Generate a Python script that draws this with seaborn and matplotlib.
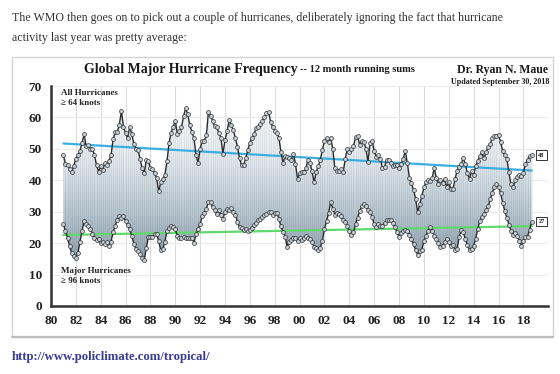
import numpy as np
import matplotlib.pyplot as plt
import matplotlib.ticker as mticker
from matplotlib.colors import LinearSegmentedColormap
from matplotlib.patches import Rectangle
from matplotlib.lines import Line2D
import seaborn as sns

# 12 month running sums, one value every two months starting Jan 1981
start_year = 1981.0
step = 1 / 6

all_hurricanes = [
    48.0, 45.2, 45.0, 43.5, 42.5, 44.7, 46.8, 48.0, 49.3, 52.0,
    54.6, 50.8, 51.2, 50.1, 50.1, 48.0, 44.8, 42.7, 44.5, 43.4,
    45.4, 44.8, 46.2, 48.0, 53.0, 55.3, 55.4, 57.7, 62.0, 57.0,
    55.0, 53.3, 57.0, 54.8, 51.5, 50.0, 49.5, 46.9, 43.8, 42.2,
    46.5, 46.0, 44.0, 43.5, 42.4, 40.6, 36.5, 39.4, 40.4, 41.8,
    46.0, 51.9, 55.2, 57.0, 58.9, 54.8, 55.7, 56.8, 60.4, 62.9,
    61.0, 57.5, 55.5, 53.5, 48.1, 45.5, 50.0, 52.6, 52.5, 54.3,
    61.8, 60.5, 59.0, 57.2, 56.8, 55.2, 53.6, 48.5, 52.8, 55.6,
    59.1, 57.7, 56.0, 53.5, 50.7, 47.0, 44.8, 44.8, 47.0, 49.7,
    51.8, 53.5, 54.6, 56.6, 57.0, 58.0, 59.0, 60.0, 61.3, 61.8,
    58.7, 56.8, 55.8, 55.1, 53.5, 49.0, 45.5, 47.6, 47.5, 47.0, 46.4,
    48.5, 45.3, 40.5, 42.2, 42.6, 42.7, 43.8, 46.4, 45.5, 43.0,
    39.3, 42.7, 44.4, 46.6, 49.7, 52.5, 53.5, 52.1, 53.6, 50.0,
    44.0, 43.0, 42.8, 43.5, 42.5, 46.7, 50.1, 48.9, 50.1, 50.8,
    53.8, 54.0, 51.3, 52.6, 52.3, 50.1, 45.8, 52.0, 52.6, 49.2,
    47.5, 48.0, 46.9, 43.8, 44.3, 46.5, 46.4, 45.5, 44.6, 45.0,
    44.9, 43.9, 45.2, 46.9, 49.3, 45.5, 40.8, 39.0, 36.9, 34.1,
    29.8, 32.4, 35.0, 37.7, 39.4, 40.1, 39.9, 40.8, 44.0, 40.6,
    38.8, 40.0, 39.2, 40.3, 37.9, 39.4, 37.2, 37.2, 40.3, 43.1,
    44.3, 45.2, 47.1, 45.1, 42.2, 40.5, 42.8, 41.8, 44.5, 46.1,
    47.7, 49.0, 47.0, 49.0, 50.7, 51.6, 53.4, 54.1, 54.2, 54.5,
    52.2, 49.3, 48.0, 46.9, 42.6, 38.8, 37.7, 40.1, 41.1, 41.7,
    41.2, 42.4, 45.3, 46.6, 47.7, 48.0,
]

major_hurricanes = [
    26.0, 23.9, 21.7, 19.0, 16.8, 16.0, 15.4, 16.8, 20.4, 23.8,
    27.1, 26.1, 25.4, 24.5, 22.8, 21.7, 21.0, 21.4, 19.9, 20.3,
    19.8, 20.2, 19.2, 20.5, 23.5, 25.5, 27.5, 28.7, 28.0, 28.6,
    26.9, 25.9, 24.4, 22.3, 19.8, 18.2, 17.4, 16.4, 15.3, 14.6,
    18.3, 22.0, 21.8, 22.1, 22.9, 22.8, 20.6, 17.7, 18.1, 20.5,
    24.0, 24.9, 25.5, 25.2, 24.4, 22.3, 21.7, 21.5, 21.9, 21.5,
    21.7, 21.5, 21.7, 20.1, 22.8, 24.5, 26.1, 28.5, 29.6, 31.0,
    33.0, 33.2, 31.5, 30.5, 29.2, 30.4, 29.1, 27.8, 29.8, 30.9,
    30.5, 31.3, 30.0, 29.1, 26.8, 25.1, 24.7, 24.2, 24.5, 23.8,
    24.2, 24.9, 25.8, 26.4, 27.3, 27.8, 28.4, 28.8, 29.3, 29.8,
    30.0, 29.1, 29.5, 29.7, 27.7, 25.3, 23.6, 22.1, 18.8, 20.4, 21.1,
    21.6, 21.5, 20.6, 21.5, 21.1, 21.7, 22.4, 21.5, 21.3, 20.2,
    18.8, 18.3, 17.7, 18.5, 20.8, 24.5, 26.9, 29.6, 33.0, 31.0,
    29.0, 29.7, 29.3, 28.5, 27.2, 26.6, 25.6, 23.8, 22.6, 23.4,
    26.1, 28.1, 30.1, 31.9, 32.4, 31.7, 30.5, 29.9, 28.3, 26.0,
    25.2, 26.1, 25.5, 25.6, 26.3, 27.2, 27.2, 27.4, 26.3, 25.0,
    23.5, 21.8, 23.1, 23.7, 24.2, 23.8, 22.7, 21.3, 19.6, 17.7,
    16.3, 17.4, 17.9, 20.6, 22.4, 23.8, 25.0, 24.0, 22.3, 21.4,
    20.0, 18.9, 19.0, 20.4, 21.2, 20.2, 19.0, 19.4, 17.8, 18.0,
    22.0, 24.2, 23.4, 21.2, 19.3, 17.8, 18.2, 19.2, 21.4, 24.6,
    27.0, 28.3, 29.3, 30.4, 31.7, 33.9, 36.0, 37.8, 38.9, 37.9,
    35.9, 32.9, 30.3, 28.1, 25.8, 23.8, 22.7, 23.3, 22.4, 20.7,
    19.0, 20.7, 22.1, 22.1, 24.2, 26.8,
]

# linear trend lines (end points)
trend_years = [1981.0, 2018.67]
trend_all = [51.7, 43.1]
trend_major = [22.6, 25.4]

years = start_year + step * np.arange(len(all_hurricanes))
all_arr = np.array(all_hurricanes)
major_arr = np.array(major_hurricanes)

sns.set_style("white")
plt.rcParams['font.family'] = ['Liberation Serif', 'DejaVu Serif']

fig = plt.figure(figsize=(5.6, 3.74), dpi=100)
ax = fig.add_axes([0.091, 0.182, 0.888, 0.588])

# shaded band between the two series (vertical gradient)
cmap = LinearSegmentedColormap.from_list(
    "band", ["#8a9daa", "#b7c5cf", "#e1e8ed", "#f7f9fb"])
grad = np.linspace(0, 1, 256).reshape(-1, 1)
im = ax.imshow(grad, extent=[1980, 2020, 14, 62], origin="lower",
               aspect="auto", cmap=cmap, zorder=1)
band = ax.fill_between(years, major_arr, all_arr, facecolor="none",
                       edgecolor="none")
im.set_clip_path(band.get_paths()[0], transform=ax.transData)
ax.vlines(years, major_arr, all_arr, color="#50626e", alpha=0.09, lw=0.7,
          zorder=1.5)

# trend lines
sns.lineplot(x=trend_years, y=trend_all, ax=ax, color="#3aaee0", lw=1.6,
             zorder=3)
sns.lineplot(x=trend_years, y=trend_major, ax=ax, color="#5fd96b", lw=1.6,
             zorder=3)

# the two running-sum series
style = dict(color="#2a2a2a", lw=1.0, marker="o", ms=2.8, mfc="#c6d0d8",
             mec="#333333", mew=0.5, zorder=4)
sns.lineplot(x=years, y=all_arr, ax=ax, **style)
sns.lineplot(x=years, y=major_arr, ax=ax, **style)

# value boxes at the right end
box = dict(boxstyle="square,pad=0.35", fc="white", ec="#333333", lw=0.7)
ax.text(years[-1] + 0.8, all_arr[-1], f"{all_arr[-1]:.0f}", fontsize=4.5,
        weight="bold", ha="center", va="center", bbox=box, zorder=6)
ax.text(years[-1] + 0.8, major_arr[-1], f"{major_arr[-1]:.0f}", fontsize=4.5,
        weight="bold", ha="center", va="center", bbox=box, zorder=6)

# axes styling
ax.set_xlim(1980, 2020)
ax.set_ylim(0, 70)
ax.set_xticks(np.arange(1980, 2019, 2))
ax.set_xticks(np.arange(1980, 2021, 1), minor=True)
ax.set_yticks(np.arange(0, 71, 10))
ax.xaxis.set_major_formatter(
    mticker.FuncFormatter(lambda v, p: f"{int(round(v)) % 100:02d}"))
ax.grid(axis="x", which="major", color="#dcdcdc", lw=0.8)
ax.grid(axis="y", which="major", color="#ececec", lw=0.8)
ax.set_axisbelow(True)
for side in ["top", "right"]:
    ax.spines[side].set_visible(False)
for side in ["left", "bottom"]:
    ax.spines[side].set_color("#333333")
    ax.spines[side].set_linewidth(1.8)
ax.tick_params(axis="both", which="both", direction="out", length=3.5,
               width=1.2, color="#333333", labelsize=9.5, pad=3)
for lbl in ax.get_xticklabels() + ax.get_yticklabels():
    lbl.set_fontweight("bold")
    lbl.set_color("#222222")
ax.set_xlabel("")
ax.set_ylabel("")

# labels inside the chart
fig.text(61 / 560, 1 - 93 / 374, "All Hurricanes", fontsize=6.5,
         weight="bold", va="center", color="#222222")
fig.text(61 / 560, 1 - 103 / 374, "\u2265 64 knots", fontsize=6.5,
         weight="bold", va="center", color="#222222")
fig.text(61 / 560, 1 - 271 / 374, "Major Hurricanes", fontsize=6.5,
         weight="bold", va="center", color="#222222")
fig.text(61 / 560, 1 - 281 / 374, "\u2265 96 knots", fontsize=6.5,
         weight="bold", va="center", color="#222222")

fig.text(84 / 560, 1 - 69 / 374, "Global Major Hurricane Frequency",
         fontsize=10, weight="bold", va="center", color="#1a1a1a")
fig.text(300 / 560, 1 - 69.5 / 374, "-- 12 month running sums", fontsize=7.5,
         weight="bold", va="center", color="#1a1a1a")
fig.text(548 / 560, 1 - 70 / 374, "Dr. Ryan N. Maue", fontsize=8.5,
         weight="bold", ha="right", va="center", color="#1a1a1a")
fig.text(549 / 560, 1 - 81.5 / 374, "Updated September 30, 2018",
         fontsize=5.8, weight="bold", ha="right", va="center",
         color="#1a1a1a")

# frame around the embedded chart
fig.patches.append(Rectangle((12 / 560, 37 / 374), 541 / 560, 280 / 374,
                             transform=fig.transFigure, fill=False,
                             ec="#d4d4d4", lw=1))
fig.lines.append(Line2D([12 / 560, 553 / 560], [37 / 374, 37 / 374],
                        transform=fig.transFigure, color="#bdbdbd", lw=1.6))

# surrounding blog text
fig.text(12 / 560, 1 - 18 / 374,
         "The WMO then goes on to pick out a couple of hurricanes, "
         "deliberately ignoring the fact that hurricane",
         fontsize=8.6, color="#333333", va="center")
fig.text(12 / 560, 1 - 38 / 374, "activity last year was pretty average:",
         fontsize=8.6, color="#333333", va="center")
fig.text(12 / 560, 1 - 357 / 374, "http://www.policlimate.com/tropical/",
         fontsize=9.2, weight="bold", color="#3b3b96", va="center")

fig.savefig("out.png", dpi=100)
